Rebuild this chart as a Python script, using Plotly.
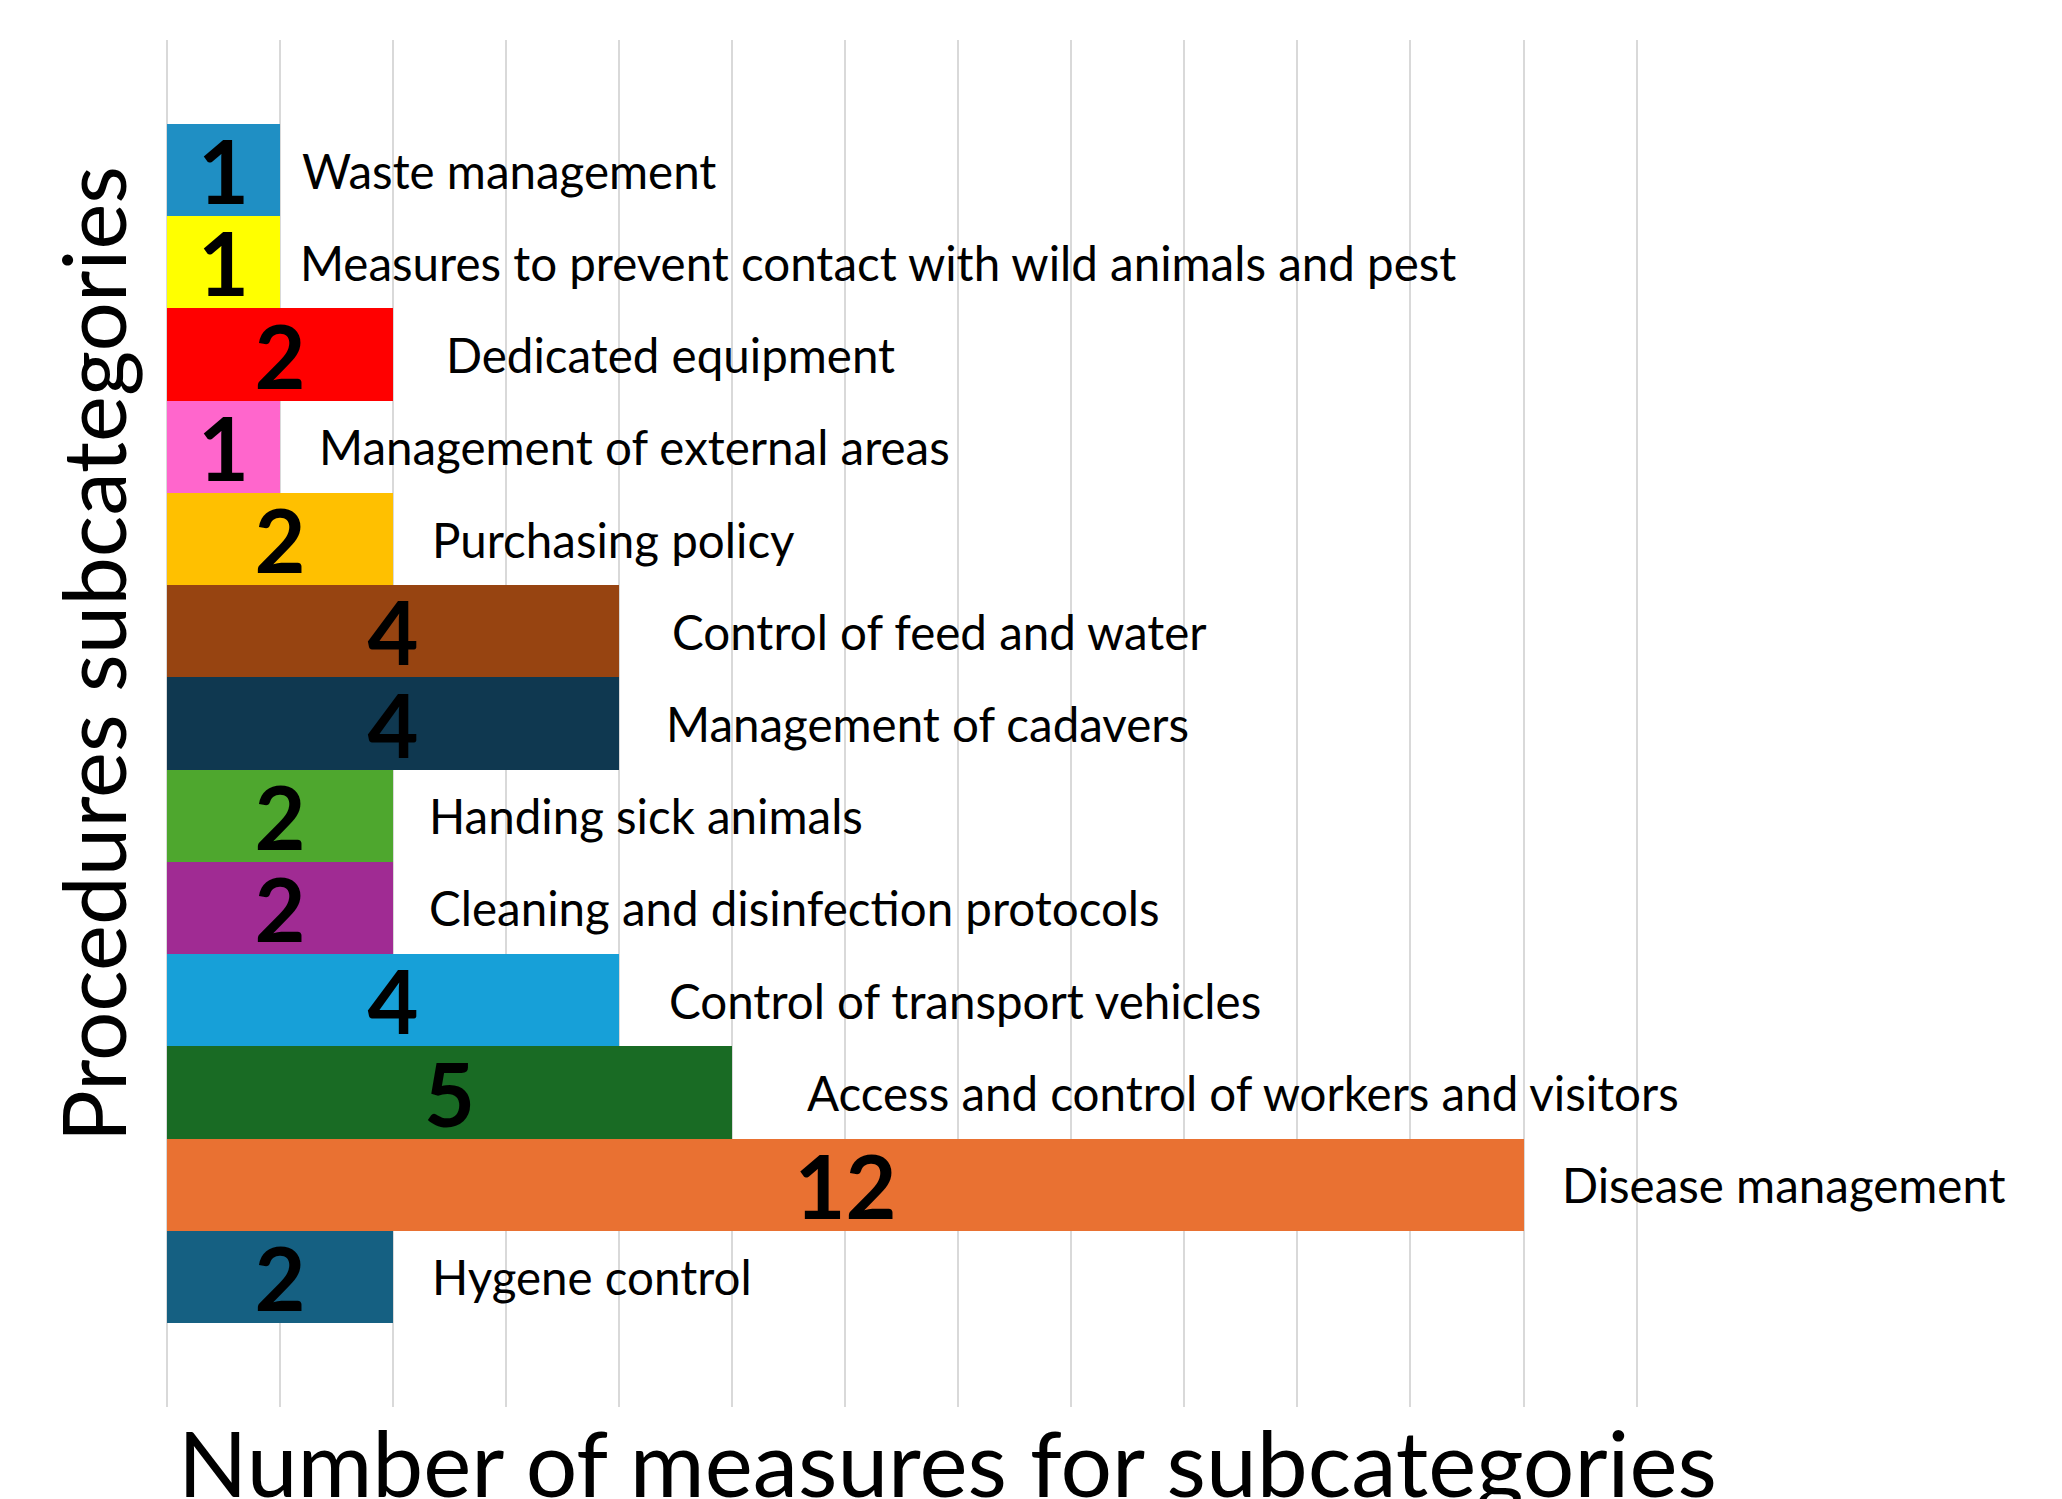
import plotly.graph_objects as go

categories = [
    "Waste management",
    "Measures to prevent contact with wild animals and pest",
    "Dedicated equipment",
    "Management of external areas",
    "Purchasing policy",
    "Control of feed and water",
    "Management of cadavers",
    "Handing sick animals",
    "Cleaning and disinfection protocols",
    "Control of transport vehicles",
    "Access and control of workers and visitors",
    "Disease management",
    "Hygene control",
]
values = [1, 1, 2, 1, 2, 4, 4, 2, 2, 4, 5, 12, 2]
colors = [
    "#1F8FC4", "#FFFF00", "#FF0000", "#FF66CC", "#FFC000", "#974411",
    "#0F3850", "#4EA72E", "#A02B93", "#17A0D8", "#196B24", "#E97132", "#156082",
]
# pixel gap between bar end and its label (layout only)
label_gaps = [20, 18, 51, 37, 37, 51, 45, 34, 34, 48, 73, 36, 37]

x_title = "Number of measures for subcategories"
y_title = "Procedures subcategories"

FONT = "Lato"
GRID = "#D9D9D9"

fig = go.Figure(
    go.Bar(
        x=values,
        y=categories,
        orientation="h",
        marker=dict(color=colors, line=dict(width=0)),
        text=[str(v) for v in values],
        textposition="inside",
        insidetextanchor="middle",
        textangle=0,
        textfont=dict(family=FONT, size=88, color="black", weight="bold"),
        constraintext="none",
        cliponaxis=False,
    )
)

for cat, val, gap in zip(categories, values, label_gaps):
    fig.add_annotation(
        x=val, y=cat, xref="x", yref="y",
        text=cat, showarrow=False,
        xanchor="left", yanchor="middle", xshift=gap,
        font=dict(family=FONT, size=47.5, color="black"),
    )

fig.add_annotation(
    x=-0.0502, y=0.5506, xref="paper", yref="paper",
    text=y_title, showarrow=False, textangle=-90,
    xanchor="center", yanchor="middle",
    font=dict(family=FONT, size=87, color="black"),
)
fig.add_annotation(
    x=0.53, y=-0.040, xref="paper", yref="paper",
    text=x_title, showarrow=False,
    xanchor="center", yanchor="middle",
    font=dict(family=FONT, size=91, color="black"),
)

fig.update_layout(
    width=2062, height=1499,
    margin=dict(l=158, r=430, t=32, b=100, pad=0),
    paper_bgcolor="white", plot_bgcolor="white",
    bargap=0,
    showlegend=False,
    uniformtext=dict(mode=False),
)
fig.update_xaxes(
    range=[-0.006, 13.03], dtick=1, tick0=0,
    showgrid=True, gridcolor=GRID, gridwidth=2,
    zeroline=True, zerolinecolor=GRID, zerolinewidth=2,
    showticklabels=False, showline=False, ticks="",
)
fig.update_yaxes(
    categoryorder="array", categoryarray=categories,
    range=[13.41, -1.41],
    showgrid=False, showticklabels=False, zeroline=False, showline=False, ticks="",
)

fig.write_html("out.html")
